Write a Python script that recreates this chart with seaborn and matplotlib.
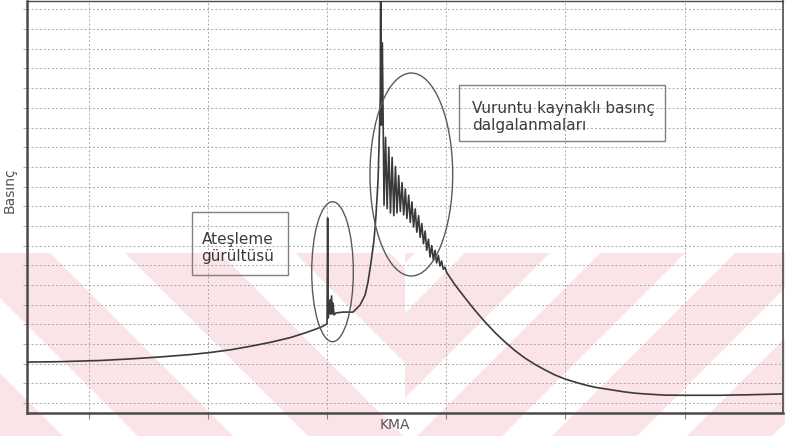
import matplotlib
matplotlib.use("Agg")
import matplotlib.pyplot as plt
from matplotlib.patches import Ellipse, Rectangle, Polygon
from matplotlib.transforms import Affine2D
import pandas as pd
import seaborn as sns

# Crank angle (KMA, deg) and cylinder pressure (bar) of one knocking cycle
kma_compression = [324.83, 327.60, 330.96, 333.47, 335.99, 338.51, 340.10, 341.86,
                   343.54, 345.22, 346.90, 348.15, 348.99, 349.58, 350.00]
p_compression = [10.4, 10.5, 10.8, 11.2, 11.7, 12.3, 12.8, 13.5,
                 14.4, 15.4, 16.6, 17.8, 18.7, 19.4, 20.1]

kma_ignition = [350.05, 350.10, 350.17, 350.25, 350.30, 350.38, 350.44, 350.50,
                350.59, 350.76, 351.34]
p_ignition = [47.0, 21.6, 23.6, 26.2, 22.6, 27.2, 22.6, 25.4, 22.4, 22.9, 23.1]

kma_combustion = [352.18, 352.77, 353.19, 353.44, 353.69, 353.94, 354.11, 354.28,
                  354.40, 354.47, 354.50, 354.56, 354.64, 354.78]
p_combustion = [23.1, 24.9, 27.4, 30.8, 35.8, 41.4, 47.8, 56.7, 69.4, 78.3,
                120.0, 70.6, 91.5, 50.3]

kma_knock = [354.91, 355.04, 355.18, 355.32, 355.46, 355.60, 355.74, 355.87,
             356.01, 356.15, 356.29, 356.43, 356.57, 356.70, 356.85, 356.98,
             357.12, 357.26, 357.40, 357.53, 357.68, 357.81, 357.95, 358.09,
             358.23, 358.36, 358.51, 358.64, 358.78, 358.92, 359.06, 359.19,
             359.34, 359.47, 359.61, 359.75, 359.89, 360.03]
p_knock = [67.5, 49.4, 65.0, 48.3, 62.4, 47.6, 60.1, 48.3,
           57.8, 48.7, 56.0, 47.8, 54.4, 46.9, 52.8, 45.9,
           51.1, 44.7, 49.3, 43.4, 47.6, 42.1, 45.6, 40.5,
           43.7, 38.8, 41.6, 37.1, 40.0, 36.3, 38.8, 35.6,
           37.5, 34.8, 36.1, 34.0, 34.5, 33.2]

kma_expansion = [360.74, 361.58, 362.42, 363.25, 364.09, 364.93, 365.77, 366.61,
                 367.45, 368.29, 369.13, 369.97, 370.81, 371.64, 372.48, 373.32,
                 374.16, 375.00, 375.84, 376.68, 378.35, 380.03, 382.97, 385.49,
                 388.25]
p_expansion = [30.0, 26.7, 23.5, 20.6, 17.9, 15.5, 13.3, 11.4,
               9.8, 8.4, 7.1, 6.1, 5.3, 4.6, 4.0, 3.6,
               3.2, 2.8, 2.5, 2.3, 2.0, 1.96, 1.96, 2.1,
               2.3]

grid_kma = [330, 340, 350, 360, 370, 380]
grid_p = list(range(0, 101, 5))

df = pd.DataFrame({
    "KMA": kma_compression + kma_ignition + kma_combustion + kma_knock + kma_expansion,
    "Basınç": p_compression + p_ignition + p_combustion + p_knock + p_expansion,
})

sns.set_theme(style="white")
plt.rcParams["font.family"] = ["DejaVu Sans"]

W, H = 785, 436
fig = plt.figure(figsize=(W / 100, H / 100), dpi=100, facecolor="white")
ax = fig.add_axes([27 / W, 23 / H, 756 / W, 412 / H])
ax.set_facecolor("none")

# pixel-space transform for decorations
pix = Affine2D().scale(1 / W, -1 / H).translate(0, 1) + fig.transFigure

# faint striped watermark in the lower band
pink = "#fae4e7"
top, bot = 253, 436
drop = bot - top
left_clip = Rectangle((0, top), 405, drop, transform=pix)
right_clip = Rectangle((405, top), W - 405, drop, transform=pix)
for a in [-215, -45, 125, 295]:
    poly = Polygon([(a, top), (a + 95, top), (a + 95 + drop, bot), (a + drop, bot)],
                   closed=True, transform=pix, facecolor=pink, edgecolor="none", zorder=-5)
    fig.patches.append(poly)
    poly.set_clip_path(left_clip)
for b in [330, 465, 600, 735, 870]:
    poly = Polygon([(b, top), (b + 85, top), (b + 85 - drop, bot), (b - drop, bot)],
                   closed=True, transform=pix, facecolor=pink, edgecolor="none", zorder=-5)
    fig.patches.append(poly)
    poly.set_clip_path(right_clip)

sns.lineplot(data=df, x="KMA", y="Basınç", estimator=None, sort=False,
             color="#3a3a3a", linewidth=1.2, ax=ax, zorder=3)

ax.set_xlim(324.83, 388.25)
ax.set_ylim(-2.54, 102.15)
ax.set_xticks(grid_kma)
ax.set_yticks(grid_p)
ax.set_xticklabels([])
ax.set_yticklabels([])
ax.set_xlabel("")
ax.set_ylabel("")
ax.tick_params(axis="x", direction="out", length=4, width=0.8, color="#888", bottom=True)
ax.tick_params(axis="y", direction="out", length=3, width=0.7, color="#aaa", left=True)
ax.grid(True, color="#a9a9a9", linestyle=(0, (2, 2.2)), linewidth=0.7)
ax.set_axisbelow(True)
for side, lw in [("left", 1.8), ("bottom", 1.8), ("top", 1.0), ("right", 1.2)]:
    ax.spines[side].set_visible(True)
    ax.spines[side].set_color("#4a4a4a")
    ax.spines[side].set_linewidth(lw)

# highlighted regions
ax.add_patch(Ellipse((350.46, 33.36), 3.49, 35.57, fill=False,
                     edgecolor="#5a5a5a", linewidth=1.0, zorder=4))
ax.add_patch(Ellipse((357.07, 58.06), 6.94, 51.58, fill=False,
                     edgecolor="#5a5a5a", linewidth=1.0, zorder=4))

# annotation boxes
fig.patches.append(Rectangle((192, 212), 96, 63, transform=pix, fill=False,
                             edgecolor="#808080", linewidth=1.0))
fig.patches.append(Rectangle((459, 85), 206, 56, transform=pix, fill=False,
                             edgecolor="#808080", linewidth=1.0))
fig.text(238 / W, 1 - 248 / H, "Ateşleme\ngürültüsü", ha="center", va="center",
         multialignment="center", fontsize=11, color="#3c3c3c", linespacing=1.15)
fig.text(472 / W, 1 - 117 / H, "Vuruntu kaynaklı basınç\ndalgalanmaları", ha="left",
         va="center", fontsize=11, color="#3c3c3c", linespacing=1.1)

fig.text(10 / W, 1 - 190 / H, "Basınç", rotation=90, ha="center", va="center",
         fontsize=10, color="#555")
fig.text(395 / W, 1 - 425 / H, "KMA", ha="center", va="center",
         fontsize=10, color="#555")

fig.savefig("out.png", dpi=100, facecolor="white")
